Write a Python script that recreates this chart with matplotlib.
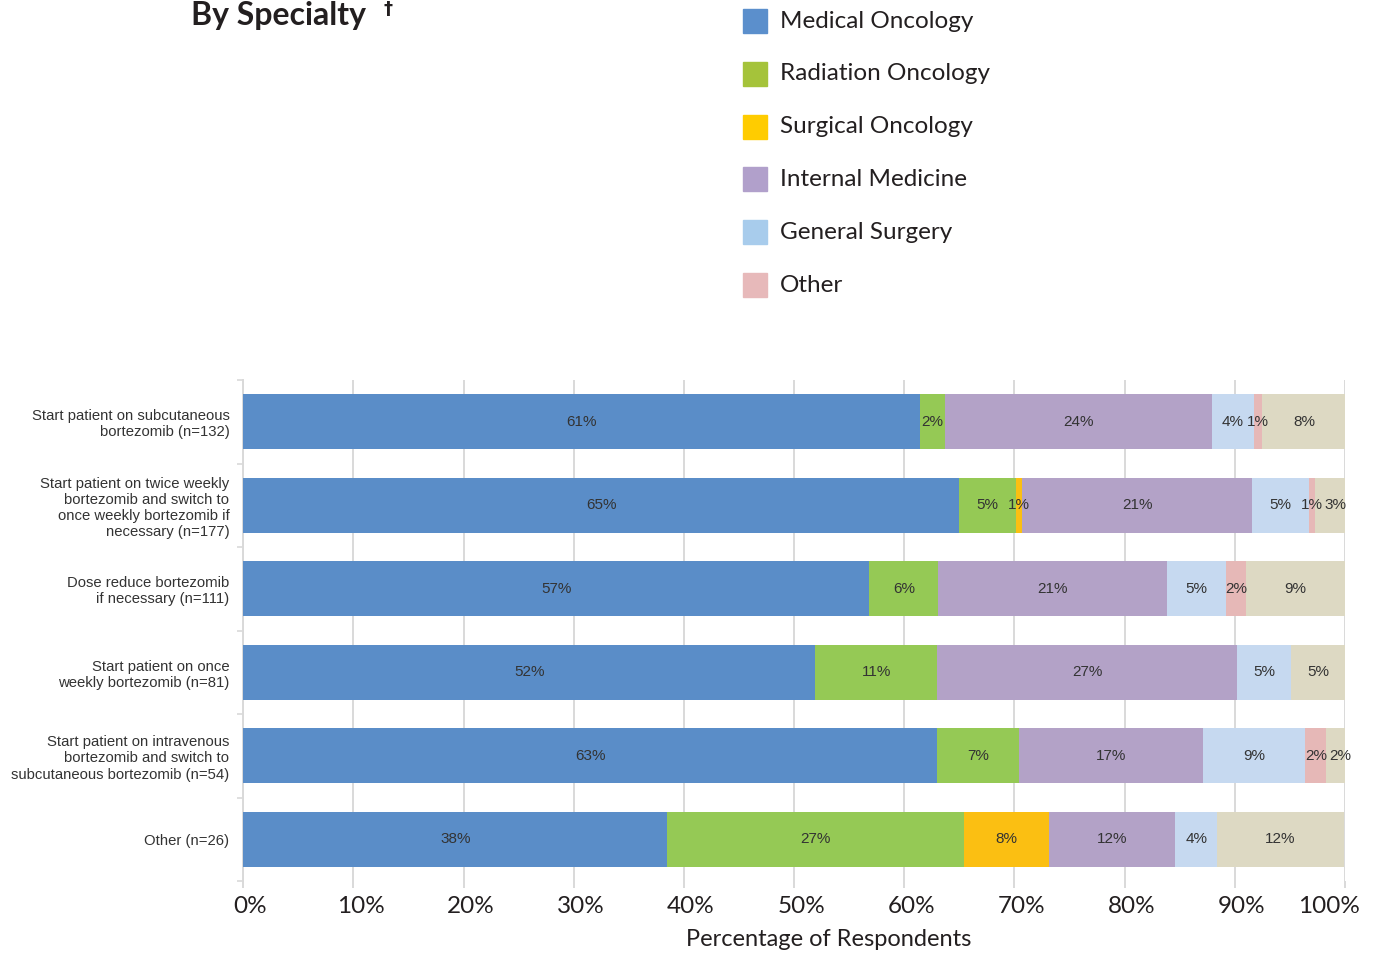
import numpy as np
import matplotlib
matplotlib.use("Agg")
import matplotlib.pyplot as plt
from matplotlib.patches import Rectangle
from matplotlib.transforms import ScaledTranslation

# data (percent of respondents)
categories = [
    "Start patient on subcutaneous\nbortezomib (n=132)",
    "Start patient on twice weekly\nbortezomib and switch to\nonce weekly bortezomib if\nnecessary (n=177)",
    "Dose reduce bortezomib\nif necessary (n=111)",
    "Start patient on once\nweekly bortezomib (n=81)",
    "Start patient on intravenous\nbortezomib and switch to\nsubcutaneous bortezomib (n=54)",
    "Other (n=26)",
]
medical = [61.4, 65.0, 56.8, 51.9, 63.0, 38.5]
radiation = [2.3, 5.1, 6.3, 11.1, 7.4, 26.9]
surgical = [0, 0.6, 0, 0, 0, 7.7]
internal = [24.2, 20.9, 20.7, 27.2, 16.7, 11.5]
general = [3.8, 5.1, 5.4, 4.9, 9.3, 3.8]
other = [0.8, 0.6, 1.8, 0, 1.9, 0]
unspecified = [7.6, 2.8, 9.0, 4.9, 1.9, 11.5]

series = [medical, radiation, surgical, internal, general, other, unspecified]
bar_colors = ["#5A8DC8", "#95C955", "#FBBF12", "#B3A2C7", "#C6D9F0", "#E6B8B7", "#DDD9C3"]

legend_names = ["Medical Oncology", "Radiation Oncology", "Surgical Oncology",
                "Internal Medicine", "General Surgery", "Other"]
legend_colors = ["#5B8FCC", "#A5C33A", "#FFCC00", "#B1A0CB", "#A8CCEC", "#E7B9BA"]

xticks = np.arange(0, 101, 10)

W, H = 1376, 955
fig = plt.figure(figsize=(W/100, H/100), dpi=100)
ax = fig.add_axes([243.3/W, 1-881/H, (1345-243.3)/W, (881-380)/H])

ypos = np.arange(len(categories))
left = np.zeros(len(categories))
row_labels = [[] for _ in categories]
for vals, col in zip(series, bar_colors):
	vals = np.array(vals, dtype=float)
	ax.barh(ypos, vals, left=left, height=0.66, color=col, edgecolor="none", zorder=3)
	for y, l, v in zip(ypos, left, vals):
		if v > 0:
			t = ax.text(l + v/2, y, f"{v:.0f}%", ha="center", va="center",
						fontsize=11, family="Liberation Sans", color="#333333", zorder=4)
			row_labels[y].append(t)
	left += vals

ax.set_xlim(0, 100)
ax.set_ylim(-0.5, len(categories)-0.5)
ax.invert_yaxis()

# axes styling
for s in ["top", "right", "bottom"]:
	ax.spines[s].set_visible(False)
ax.spines["left"].set_color("#D9D9D9")
ax.spines["left"].set_linewidth(1.4)
ax.xaxis.grid(True, color="#D9D9D9", linewidth=1.4, zorder=0)
ax.set_axisbelow(True)

ax.set_xticks(xticks)
ax.set_xticklabels([f"{t}%" for t in xticks], fontsize=17.5, family="Lato", color="#231F20")
ax.tick_params(axis="x", length=5, width=1.4, color="#D9D9D9", pad=6)
for i, lab in enumerate(ax.get_xticklabels()):
	dx = -16 if i == len(xticks)-1 else 7
	lab.set_transform(lab.get_transform() + ScaledTranslation(dx/100, 0, fig.dpi_scale_trans))

ax.set_yticks(ypos)
ax.set_yticklabels(categories, fontsize=10.7, family="Liberation Sans", color="#333333",
				   linespacing=1.2)
ax.tick_params(axis="y", length=0, pad=10)
ax.set_yticks(np.arange(-0.5, len(categories), 1), minor=True)
ax.tick_params(axis="y", which="minor", length=4, width=1.2, color="#D9D9D9")

ax.set_xlabel("Percentage of Respondents", fontsize=17, family="Lato", color="#231F20",
			  labelpad=8)
ax.xaxis.set_label_coords(0.5316, -0.095)

# nudge tiny-segment labels so they do not run into each other
fig.canvas.draw()
renderer = fig.canvas.get_renderer()
for labs in row_labels:
	prev_right = None
	for t in labs:
		bb = t.get_window_extent(renderer)
		if prev_right is not None and bb.x0 < prev_right + 2:
			shift = prev_right + 2 - bb.x0
			t.set_transform(t.get_transform() + ScaledTranslation(shift/100, 0, fig.dpi_scale_trans))
			prev_right = bb.x1 + shift
		else:
			prev_right = bb.x1

# title
fig.text(191/W, 1-1/H, "By Specialty", fontsize=23, weight="bold", family="Lato",
		 color="#231F20", ha="left", va="top")
fig.text(384/W, 1-0/H, "\u2020", fontsize=13, weight="bold", family="DejaVu Sans",
		 color="#231F20", ha="left", va="top")

# legend
for i, (name, col) in enumerate(zip(legend_names, legend_colors)):
	yc = 21 + i*52.8
	fig.patches.append(Rectangle((743/W, 1-(yc+12)/H), 24/W, 24/H, color=col,
								 transform=fig.transFigure, figure=fig))
	fig.text(780/W, 1-yc/H, name, fontsize=17.5, family="Lato", color="#231F20",
			 ha="left", va="center")

fig.savefig("out.png", dpi=100)
